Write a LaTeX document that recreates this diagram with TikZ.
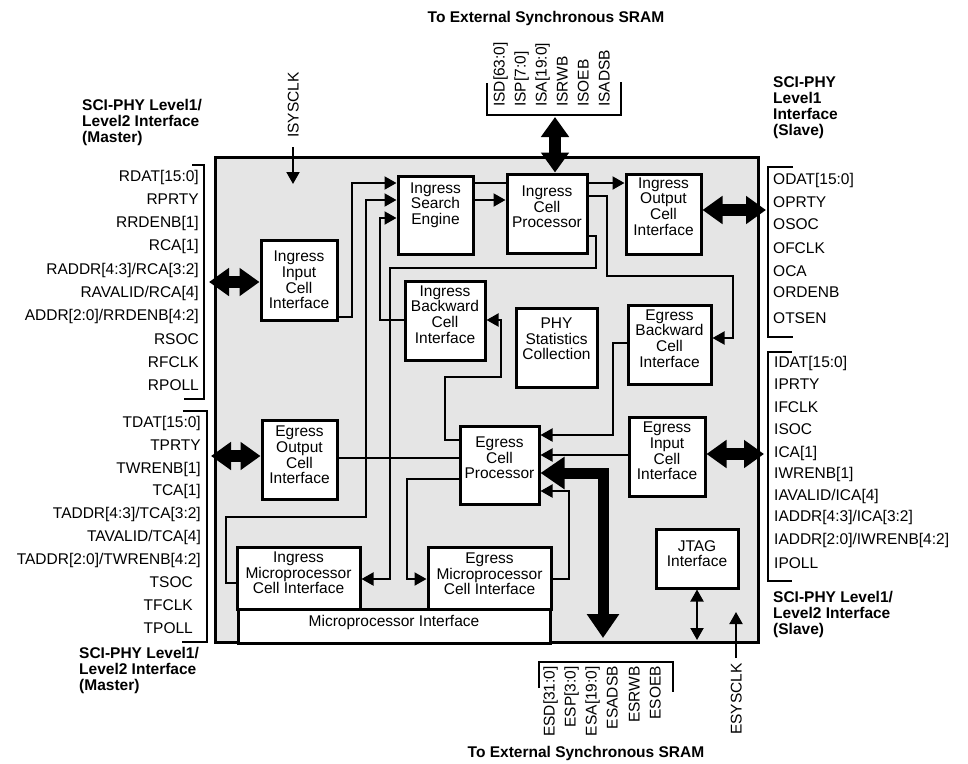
\documentclass[tikz,border=0pt]{standalone}
\usepackage{fontspec}
\setmainfont{Liberation Sans}
\usetikzlibrary{arrows.meta,fit}
\newcommand{\fsz}{\fontsize{15.5pt}{15.6pt}\selectfont}
\newcommand{\tsz}{\fontsize{15.5pt}{16pt}\selectfont\bfseries}
\begin{document}
\begin{tikzpicture}[x=1pt,y=-1pt,
  chipst/.style={draw, line width=3pt, fill=black!10, inner sep=0pt},
  blk/.style={draw, line width=3pt, fill=white, inner sep=0pt},
  bt/.style={font=\fsz, align=center, inner sep=0pt},
  sig/.style={font=\fsz, inner sep=0pt, text height=11.1pt, text depth=0pt},
  ttl/.style={font=\tsz, align=left, inner sep=0pt, anchor=north west},
  ttlc/.style={font=\tsz, inner sep=0pt, text height=11.1pt, text depth=0pt},
  con/.style={line width=2pt},
  arr/.style={con, -{Triangle[length=12pt,width=13pt]}},
  darr/.style={con, {Triangle[length=12pt,width=13pt]}-{Triangle[length=12pt,width=13pt]}},
  brk/.style={line width=2pt},
  bus/.style={line width=12pt, {Triangle[length=20pt,width=27pt]}-{Triangle[length=20pt,width=27pt]}},
  tbus/.style={line width=11pt, line join=miter, {Triangle[length=24pt,width=31pt]}-{Triangle[length=24pt,width=31pt]}}
]
\useasboundingbox (0,0) rectangle (968,763);

% chip
\node[chipst, fit={(215,157)(758,642)}] (chip) {};

% blocks
\node[blk, fit={(261,240)(337,320)}, label={[bt]center:{Ingress\\Input\\Cell\\Interface}}] (iici) {};
\node[blk, fit={(398,176)(473,254)}, label={[bt,yshift=10pt]center:{Ingress\\Search\\Engine}}] (ise) {};
\node[blk, fit={(507,174)(587,253)}, label={[bt,yshift=6.5pt]center:{Ingress\\Cell\\Processor}}] (icp) {};
\node[blk, fit={(626,174)(701,254)}, label={[bt,yshift=7.5pt]center:{Ingress\\Output\\Cell\\Interface}}] (ioci) {};
\node[blk, fit={(405,281)(485,360)}, label={[bt,yshift=6pt]center:{Ingress\\Backward\\Cell\\Interface}}] (ibci) {};
\node[blk, fit={(516,308)(597,387)}, label={[bt,yshift=8.5pt]center:{PHY\\Statistics\\Collection}}] (phy) {};
\node[blk, fit={(628,305)(711,384)}, label={[bt,yshift=6pt]center:{Egress\\Backward\\Cell\\Interface}}] (ebci) {};
\node[blk, fit={(262,420)(337,499)}, label={[bt,yshift=4.5pt]center:{Egress\\Output\\Cell\\Interface}}] (eoci) {};
\node[blk, fit={(460,426)(539,504)}, label={[bt,yshift=7pt]center:{Egress\\Cell\\Processor}}] (ecp) {};
\node[blk, fit={(629,417)(705,496)}, label={[bt,yshift=5.5pt]center:{Egress\\Input\\Cell\\Interface}}] (eici) {};
\node[blk, fit={(656,529)(738,588)}, label={[bt,yshift=5pt]center:{JTAG\\Interface}}] (jtag) {};
\node[blk, fit={(238,609)(550,643)}, label={[bt,yshift=4pt]center:{Microprocessor Interface}}] (mpi) {};
\node[blk, fit={(237,547)(360,609)}, label={[bt,yshift=5pt]center:{Ingress\\Microprocessor\\Cell Interface}}] (imci) {};
\node[blk, fit={(428,547)(551,609)}, label={[bt,yshift=4pt]center:{Egress\\Microprocessor\\Cell Interface}}] (emci) {};

% free ends
\coordinate (lb1) at (209,282);
\coordinate (lb2) at (211,456);
\coordinate (rb1) at (766,210);
\coordinate (rb2) at (764,454);
\coordinate (tb) at (555,117);
\coordinate (isys) at (293,147);
\coordinate (isysend) at (293,184);
\coordinate (esys) at (736,658);
\coordinate (esysend) at (736,612);
\coordinate (bbus) at (603,638);
\coordinate (jb) at (697,640);

% internal connectors
\draw[arr] (iici.east |- 0,317) -- (352,317) -- (352,183) -- (ise.west |- 0,183);
\draw[arr] (imci.west |- 0,583) -- (226,583) -- (226,517) -- (366,517) -- (366,200) -- (ise.west |- 0,200);
\draw[arr] (ibci.west |- 0,320) -- (380,320) -- (380,218) -- (ise.west |- 0,218);
\draw[con] (ise.east |- 0,183) -- (icp.west |- 0,183);
\draw[arr] (ise.east |- 0,200) -- (icp.west |- 0,200);
\draw[arr] (icp.east |- 0,183) -- (ioci.west |- 0,183);
\draw[arr] (icp.east |- 0,196) -- (607,196) -- (607,276) -- (733,276) -- (733,338) -- (ebci.east |- 0,338);
\draw[arr] (icp.east |- 0,236) -- (596,236) -- (596,268) -- (390,268) -- (390,579) -- (imci.east |- 0,579);
\draw[arr] (ecp.west |- 0,440) -- (445,440) -- (445,377) -- (501,377) -- (501,320) -- (ibci.east |- 0,320);
\draw[arr] (ebci.west |- 0,343) -- (613,343) -- (613,435) -- (ecp.east |- 0,435);
\draw[arr] (eici.west |- 0,455) -- (ecp.east |- 0,455);
\draw[arr] (emci.east |- 0,579) -- (569,579) -- (569,491) -- (ecp.east |- 0,491);
\draw[con] (eoci.east |- 0,458) -- (ecp.west |- 0,458);
\draw[arr] (ecp.west |- 0,479) -- (407,479) -- (407,579) -- (emci.west |- 0,579);
\draw[tbus] (ecp.east |- 0,473) -- (603,473) -- (bbus);
\draw[darr] (jtag.south) -- (jb);
\draw[arr] (esys) -- (esysend);
\draw[arr] (isys) -- (isysend);

% bus arrows
\draw[bus] (lb1) -- (iici.west |- 0,282);
\draw[bus] (lb2) -- (eoci.west |- 0,456);
\draw[bus] (ioci.east |- 0,210) -- (rb1);
\draw[bus] (eici.east |- 0,454) -- (rb2);
\draw[bus] (tb) -- (icp.north -| 555,0);

% brackets
\draw[brk] (192,165) -- (204,165) -- (204,399) -- (184,399);
\draw[brk] (183,411) -- (207,411) -- (207,642) -- (182,642);
\draw[brk] (793,167) -- (768,167) -- (768,337) -- (793,337);
\draw[brk] (792,352) -- (768,352) -- (768,581) -- (792,581);
\draw[brk] (487,83) -- (487,115) -- (621,115) -- (621,82);
\draw[brk] (539,688) -- (539,662) -- (673,662) -- (673,692);

% left signal lists
\foreach \t [count=\i from 0] in {RDAT[15:0],RPRTY,RRDENB[1],RCA[1],{RADDR[4:3]/RCA[3:2]},{RAVALID/RCA[4]},{ADDR[2:0]/RRDENB[4:2]},RSOC,RFCLK,RPOLL}
  \node[sig, anchor=east] at (199,175.5+23.3*\i) {\t};
\foreach \t [count=\i from 0] in {TDAT[15:0],TPRTY,TWRENB[1],TCA[1],{TADDR[4:3]/TCA[3:2]},{TAVALID/TCA[4]},{TADDR[2:0]/TWRENB[4:2]}}
  \node[sig, anchor=east] at (201,421.7+22.9*\i) {\t};
\foreach \t [count=\i from 7] in {TSOC,TFCLK,TPOLL}
  \node[sig, anchor=east] at (193,421.7+22.9*\i) {\t};

% right signal lists
\foreach \t/\y in {ODAT[15:0]/179,OPRTY/202,OSOC/224,OFCLK/248,OCA/271,ORDENB/292,OTSEN/318}
  \node[sig, anchor=west] at (773,\y) {\t};
\foreach \t/\y in {IDAT[15:0]/362,IPRTY/384,IFCLK/407,ISOC/429,ICA[1]/452,IWRENB[1]/473,{IAVALID/ICA[4]}/495,{IADDR[4:3]/ICA[3:2]}/516,{IADDR[2:0]/IWRENB[4:2]}/539,IPOLL/563}
  \node[sig, anchor=west] at (774,\y) {\t};

% SRAM signals
\foreach \t/\x in {ISD[63:0]/499,ISP[7:0]/520,ISA[19:0]/541,ISRWB/562,ISOEB/583,ISADSB/604}
  \node[sig, rotate=90, anchor=west] at (\x,107) {\t};
\foreach \t/\x in {ESD[31:0]/549,ESP[3:0]/570,ESA[19:0]/591,ESADSB/612,ESRWB/634,ESOEB/655}
  \node[sig, rotate=90, anchor=east] at (\x,666) {\t};
\node[sig, rotate=90, anchor=west] at (293,138) {ISYSCLK};
\node[sig, rotate=90, anchor=east] at (736,663) {ESYSCLK};

% titles
\node[ttlc] at (546,17) {To External Synchronous SRAM};
\node[ttlc] at (586,752) {To External Synchronous SRAM};
\node[ttl] at (82,99) {SCI-PHY Level1/\\Level2 Interface\\(Master)};
\node[ttl] at (79,647) {SCI-PHY Level1/\\Level2 Interface\\(Master)};
\node[ttl] at (773,76) {SCI-PHY\\Level1\\Interface\\(Slave)};
\node[ttl] at (773,591) {SCI-PHY Level1/\\Level2 Interface\\(Slave)};
\end{tikzpicture}
\end{document}
